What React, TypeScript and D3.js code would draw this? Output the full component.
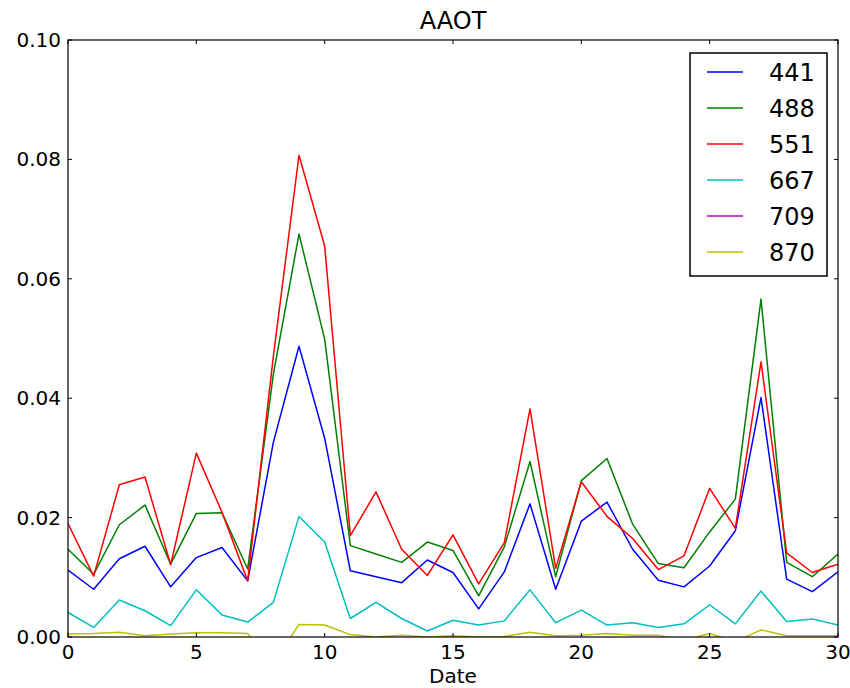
import React from "react";
import * as d3 from "d3";

const dates = d3.range(0, 31);
const seriesNames = ["441", "488", "551", "667", "709", "870"];
const seriesColors = ["#0000ff", "#008000", "#ff0000", "#00bfbf", "#bf00bf", "#bfbf00"];

const aaot441 = [0.0112, 0.0080, 0.0131, 0.0152, 0.0084, 0.0133, 0.0150, 0.0094, 0.0326, 0.0487, 0.0333,
  0.0111, 0.0101, 0.0091, 0.0129, 0.0108, 0.0047, 0.0109, 0.0223, 0.0080, 0.0194,
  0.0226, 0.0147, 0.0095, 0.0084, 0.0119, 0.0178, 0.0401, 0.0097, 0.0076, 0.0109];
const aaot488 = [0.0147, 0.0105, 0.0188, 0.0221, 0.0122, 0.0207, 0.0208, 0.0114, 0.0440, 0.0675, 0.0499,
  0.0153, 0.0139, 0.0125, 0.0159, 0.0145, 0.0069, 0.0151, 0.0294, 0.0101, 0.0262,
  0.0299, 0.0189, 0.0123, 0.0116, 0.0176, 0.0231, 0.0566, 0.0125, 0.0101, 0.0139];
const aaot551 = [0.0190, 0.0102, 0.0255, 0.0268, 0.0121, 0.0308, 0.0209, 0.0094, 0.0470, 0.0807, 0.0655,
  0.0170, 0.0243, 0.0147, 0.0103, 0.0171, 0.0089, 0.0158, 0.0382, 0.0115, 0.0260,
  0.0202, 0.0165, 0.0113, 0.0136, 0.0249, 0.0182, 0.0461, 0.0141, 0.0108, 0.0122];
const aaot667 = [0.0041, 0.0016, 0.0062, 0.0044, 0.0019, 0.0079, 0.0037, 0.0025, 0.0058, 0.0202, 0.0159,
  0.0031, 0.0058, 0.0031, 0.0010, 0.0028, 0.0020, 0.0027, 0.0079, 0.0024, 0.0045,
  0.0020, 0.0024, 0.0016, 0.0022, 0.0054, 0.0022, 0.0077, 0.0026, 0.0030, 0.0020];
const aaot709 = [-0.0010, -0.0012, -0.0008, -0.0015, -0.0011, -0.0009, -0.0010, -0.0012, -0.0060, -0.0005, -0.0006,
  -0.0012, -0.0015, -0.0013, -0.0016, -0.0014, -0.0018, -0.0015, -0.0010, -0.0014, -0.0013,
  -0.0011, -0.0013, -0.0014, -0.0020, -0.0012, -0.0022, -0.0008, -0.0014, -0.0013, -0.0014];
const aaot870 = [0.0005, 0.0006, 0.0008, 0.0002, 0.0005, 0.0007, 0.0007, 0.0006, -0.0045, 0.0021, 0.0020,
  0.0004, 0.0000, 0.0003, 0.0000, 0.0002, 0.0000, 0.0001, 0.0008, 0.0002, 0.0003,
  0.0006, 0.0003, 0.0003, -0.0006, 0.0006, -0.0008, 0.0012, 0.0002, 0.0002, 0.0002];
const seriesValues = [aaot441, aaot488, aaot551, aaot667, aaot709, aaot870];

const xTicks = [0, 5, 10, 15, 20, 25, 30];
const yTicks = [0, 0.02, 0.04, 0.06, 0.08, 0.1];
const titleText = "AAOT";
const xLabel = "Date";

export default function App() {
  const W = 850, H = 688;
  const left = 68, right = 838, top = 40, bottom = 637;
  const x = d3.scaleLinear().domain([0, 30]).range([left, right]);
  const y = d3.scaleLinear().domain([0, 0.1]).range([bottom, top]);
  const line = d3.line<number>().x((_, i) => x(dates[i])).y((d) => y(d));
  const font = "DejaVu Sans, sans-serif";
  const tickLen = 4;

  const legX = 690, legY = 53, legW = 137, legH = 223;
  const legStep = 36;

  return (
    <svg width={W} height={H} style={{ position: "absolute", left: 0, top: 0, background: "#fff" }} fontFamily={font}>
      <defs>
        <clipPath id="plotclip">
          <rect x={left} y={top} width={right - left} height={bottom - top} />
        </clipPath>
      </defs>
      <rect x={0} y={0} width={W} height={H} fill="#fff" />
      <g clipPath="url(#plotclip)">
        {seriesValues.map((vals, k) => (
          <path key={k} d={line(vals) || ""} fill="none" stroke={seriesColors[k]} strokeWidth={1.5} strokeLinejoin="round" />
        ))}
      </g>
      <rect x={left} y={top} width={right - left} height={bottom - top} fill="none" stroke="#000" strokeWidth={1.2} />
      {xTicks.map((t) => (
        <g key={"x" + t}>
          <line x1={x(t)} x2={x(t)} y1={bottom} y2={bottom - tickLen} stroke="#000" />
          <line x1={x(t)} x2={x(t)} y1={top} y2={top + tickLen} stroke="#000" />
          <text x={x(t)} y={bottom + 22} textAnchor="middle" fontSize={20} fill="#000">{t}</text>
        </g>
      ))}
      {yTicks.map((t) => (
        <g key={"y" + t}>
          <line x1={left} x2={left + tickLen} y1={y(t)} y2={y(t)} stroke="#000" />
          <line x1={right} x2={right - tickLen} y1={y(t)} y2={y(t)} stroke="#000" />
          <text x={left - 7} y={y(t) + 7} textAnchor="end" fontSize={20} fill="#000">{t.toFixed(2)}</text>
        </g>
      ))}
      <text x={(left + right) / 2} y={29} textAnchor="middle" fontSize={24} fill="#000">{titleText}</text>
      <text x={(left + right) / 2} y={683} textAnchor="middle" fontSize={20} fill="#000">{xLabel}</text>
      <g>
        <rect x={legX} y={legY} width={legW} height={legH} fill="#fff" stroke="#000" strokeWidth={1.5} />
        {seriesNames.map((n, k) => (
          <g key={n}>
            <line x1={707} x2={743} y1={legY + 19 + k * legStep} y2={legY + 19 + k * legStep} stroke={seriesColors[k]} strokeWidth={1.5} />
            <text x={769} y={legY + 28 + k * legStep} fontSize={24} fill="#000">{n}</text>
          </g>
        ))}
      </g>
    </svg>
  );
}
